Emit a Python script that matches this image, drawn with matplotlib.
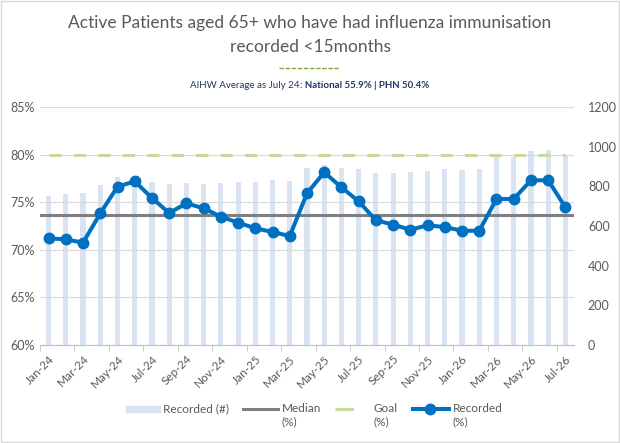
import numpy as np
import matplotlib.pyplot as plt
from matplotlib.lines import Line2D
from matplotlib.patches import Rectangle

plt.rcParams['font.family'] = ['Lato', 'DejaVu Sans']

# month labels Jan-24 .. Jul-26
months = ['Jan-24', 'Feb-24', 'Mar-24', 'Apr-24', 'May-24', 'Jun-24', 'Jul-24', 'Aug-24',
          'Sep-24', 'Oct-24', 'Nov-24', 'Dec-24', 'Jan-25', 'Feb-25', 'Mar-25', 'Apr-25',
          'May-25', 'Jun-25', 'Jul-25', 'Aug-25', 'Sep-25', 'Oct-25', 'Nov-25', 'Dec-25',
          'Jan-26', 'Feb-26', 'Mar-26', 'Apr-26', 'May-26', 'Jun-26', 'Jul-26']

recorded_count = [753, 763, 768, 808, 849, 845, 822, 813, 818, 813, 818, 823, 823, 833, 828, 894,
                  907, 894, 889, 869, 869, 874, 879, 889, 884, 889, 956, 949, 980, 985, 956]

recorded_pct = [71.2, 71.1, 70.75, 73.83, 76.63, 77.19, 75.44, 73.87, 74.88, 74.36, 73.48,
                72.85, 72.26, 71.87, 71.45, 75.93, 78.14, 76.56, 75.09, 73.1, 72.64, 72.11,
                72.57, 72.39, 72.0, 72.0, 75.34, 75.34, 77.3, 77.3, 74.46]

median_pct = 73.7
goal_pct = 80

BAR = '#DAE3F1'
MED = '#7F7F7F'
GOAL = '#C5D9A0'
LINE = '#0070C0'
TXT = '#595959'

W, H = 620, 443
x = np.arange(len(months))

fig = plt.figure(figsize=(W / 100, H / 100), dpi=100)
ax = fig.add_axes([40 / W, 1 - 345 / H, 534 / W, 238 / H])
ax2 = ax.twinx()

# bars on the right axis, drawn behind
ax2.bar(x, recorded_count, width=0.3, color=BAR, zorder=1)
ax2.set_ylim(0, 1200)
ax2.set_yticks(range(0, 1201, 200))

ax.set_zorder(ax2.get_zorder() + 1)
ax.patch.set_visible(False)

ax.axhline(median_pct, color=MED, lw=2.2, zorder=3)
ax.plot(x, [goal_pct] * len(x), color=GOAL, lw=2.2, dashes=(4, 4), zorder=3)
ax.plot(x, recorded_pct, color=LINE, lw=2.9, marker='o', ms=7.5, zorder=4)

ax.set_ylim(60, 85)
ax.set_xlim(-0.5, len(x) - 0.5)
ax.set_yticks(range(60, 86, 5))
ax.set_yticklabels([f'{v}%' for v in range(60, 86, 5)])
ax.yaxis.grid(True, color='#D9D9D9', lw=0.8)
ax.set_axisbelow(True)

ax.set_xticks(x[::2])
ax.set_xticklabels(months[::2], rotation=45, ha='right', rotation_mode='anchor')
ax.set_xticks(np.arange(-0.5, len(x), 2), minor=True)
ax.tick_params(axis='x', which='major', length=0, pad=6)
ax.tick_params(axis='x', which='minor', length=4, color='#BFBFBF')

for a in (ax, ax2):
    for s in a.spines.values():
        s.set_visible(False)
    a.tick_params(axis='y', length=0, labelcolor=TXT, labelsize=9)
    a.tick_params(axis='x', labelcolor=TXT, labelsize=8.5)
ax.spines['bottom'].set_visible(True)
ax.spines['bottom'].set_color('#BFBFBF')
ax2.tick_params(axis='y', pad=10)


def fx(px):
    return px / W


def fy(py):
    return 1 - py / H


# title and subtitle
fig.text(0.5, fy(28), 'Active Patients aged 65+ who have had influenza immunisation',
         ha='center', va='baseline', fontsize=12.5, color=TXT)
fig.text(0.5, fy(52), 'recorded <15months', ha='center', va='baseline', fontsize=12.5, color=TXT)
fig.add_artist(Line2D([fx(279), fx(340)], [fy(68), fy(68)], color='#7FA83A', lw=1.0,
                      dashes=(3.2, 1.2)))
sub_y = fy(85)
t = fig.text(0.5, sub_y, 'AIHW Average as July 24: National 55.9% | PHN 50.4%', ha='center',
             va='center', fontsize=7, color='#1F3864', fontweight='bold', alpha=0)
fig.canvas.draw()
x0 = t.get_window_extent().x0 / fig.bbox.width
t.remove()
left = fig.text(x0, sub_y, 'AIHW Average as July 24', ha='left', va='center', fontsize=7,
                color='#1F3864')
fig.canvas.draw()
x1 = left.get_window_extent().x1 / fig.bbox.width
fig.text(x1, sub_y, ': National 55.9% | PHN 50.4%', ha='left', va='center', fontsize=7,
         color='#1F3864', fontweight='bold')

# legend, laid out like the Excel one
ly = fy(409)
fig.add_artist(Rectangle((fx(126), fy(412)), fx(160) - fx(126), fy(406) - fy(412), color=BAR))
fig.text(fx(163), ly, 'Recorded (#)', ha='left', va='center', fontsize=8.5, color=TXT)
fig.add_artist(Line2D([fx(243), fx(278)], [ly, ly], color=MED, lw=2.2))
fig.text(fx(282), ly, 'Median', ha='left', va='center', fontsize=8.5, color=TXT)
fig.text(fx(282), fy(422), '(%)', ha='left', va='center', fontsize=8.5, color=TXT)
fig.add_artist(Line2D([fx(335), fx(369)], [ly, ly], color=GOAL, lw=2.2, dashes=(6, 6)))
fig.text(fx(374), ly, 'Goal', ha='left', va='center', fontsize=8.5, color=TXT)
fig.text(fx(374), fy(422), '(%)', ha='left', va='center', fontsize=8.5, color=TXT)
fig.add_artist(Line2D([fx(413), fx(449)], [ly, ly], color=LINE, lw=2.9))
fig.add_artist(Line2D([fx(430)], [ly], color=LINE, marker='o', ms=7.5, lw=0))
fig.text(fx(453), ly, 'Recorded', ha='left', va='center', fontsize=8.5, color=TXT)
fig.text(fx(453), fy(422), '(%)', ha='left', va='center', fontsize=8.5, color=TXT)

fig.add_artist(Rectangle((0.002, 0.002), 0.996, 0.996, fill=False, edgecolor='#D9D9D9', lw=1))

fig.savefig('out.png', dpi=100)
